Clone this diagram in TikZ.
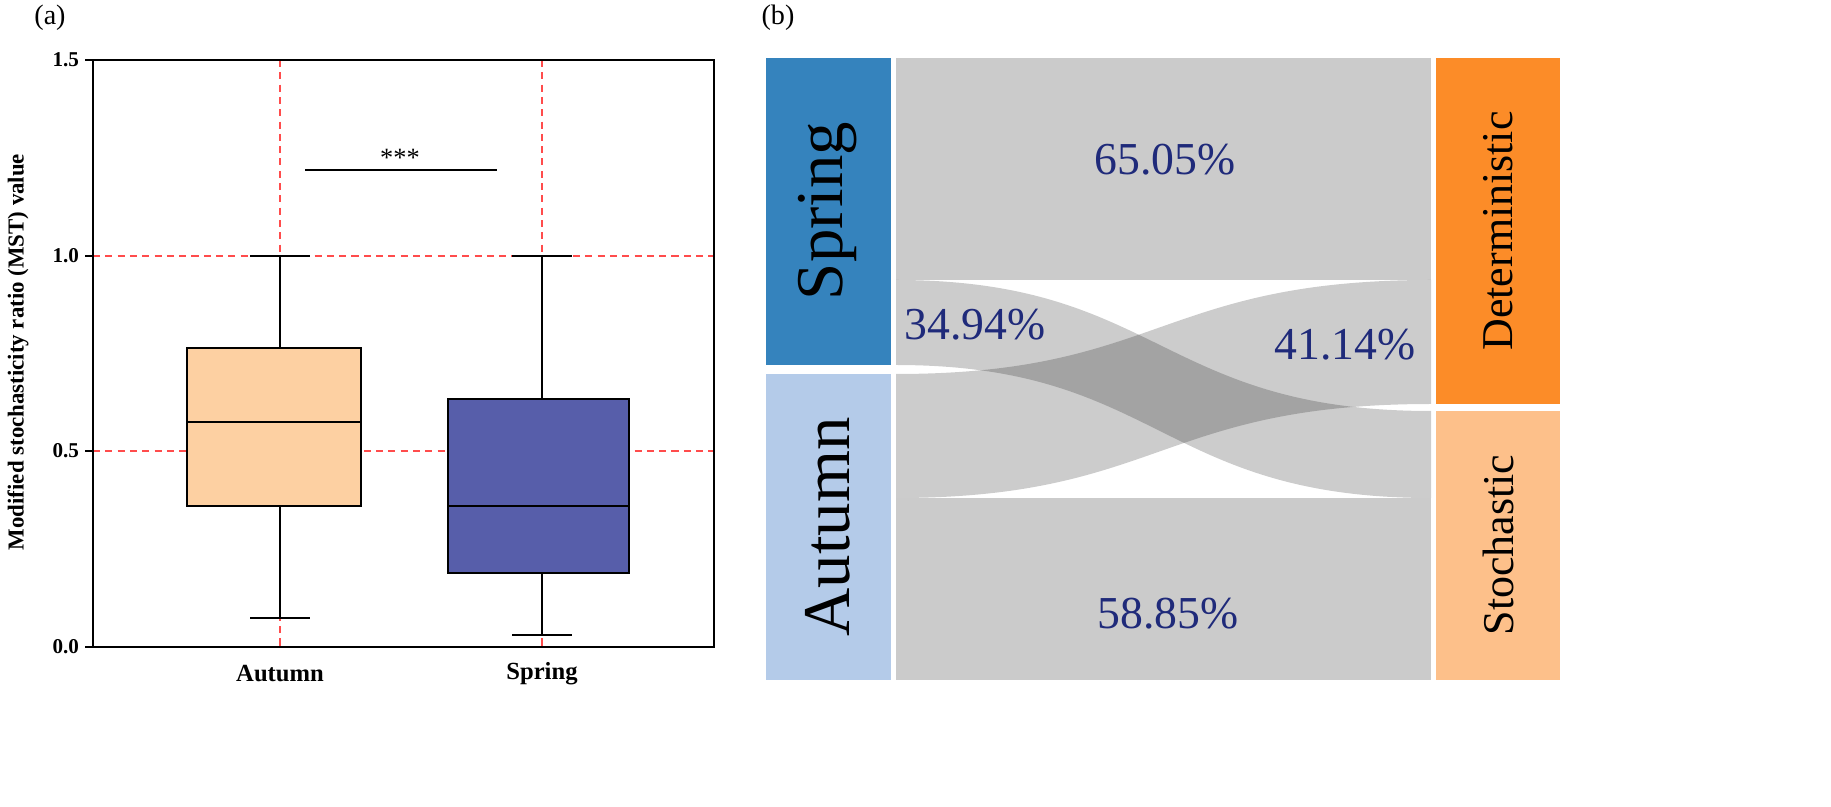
\documentclass[tikz,border=0pt]{standalone}
\usepackage{fontspec}
\setmainfont{Liberation Serif}
\definecolor{springc}{HTML}{3583BD}
\definecolor{autumnc}{HTML}{B4CBE9}
\definecolor{detc}{HTML}{FC8C28}
\definecolor{stoc}{HTML}{FDC08A}
\definecolor{flowc}{HTML}{CBCBCB}
\definecolor{pctc}{HTML}{1F2A7A}
\definecolor{boxa}{HTML}{FDD0A2}
\definecolor{boxs}{HTML}{575EAA}
\begin{document}
\begin{tikzpicture}[x=0.01cm,y=-0.01cm,
  grid/.style={red!70,dashed,line width=0.3pt,dash pattern=on 2pt off 1.5pt},
  whisk/.style={line width=0.7pt},
  tick/.style={font=\fontsize{6}{6}\selectfont\bfseries,left,inner sep=1.5pt},
  pct/.style={text=pctc,font=\fontsize{13}{13}\selectfont},
  band/.style={fill=black,fill opacity=0.2}]
 \useasboundingbox (0,0) rectangle (1831,807);
 % panel (a)
 \node (la) at (50,18) {\fontsize{8}{8}\selectfont (a)};
 \foreach \y in {256,451} \draw[grid] (93,\y) -- (714,\y);
 \foreach \x in {280,542} \draw[grid] (\x,60) -- (\x,647);
 \draw[line width=0.7pt] (93,60) rectangle (714,647);
 \foreach \y/\t in {60/1.5,256/1.0,451/0.5,647/0.0}{
   \draw[line width=0.7pt] (85,\y) -- (93,\y);
   \node[tick] at (85,\y) {\t};}
 \node[rotate=90,font=\fontsize{6.5}{6.5}\selectfont\bfseries] (ytitle) at (18,352) {Modified stochasticity ratio (MST) value};
 % Autumn box
 \draw[whisk] (280,256) -- (280,348) (280,506) -- (280,618)
   (250,256) -- (310,256) (250,618) -- (310,618);
 \draw[whisk,fill=boxa] (187,348) rectangle (361,506);
 \draw[whisk] (187,422) -- (361,422);
 % Spring box
 \draw[whisk] (542,256) -- (542,399) (542,573) -- (542,635)
   (512,256) -- (572,256) (512,635) -- (572,635);
 \draw[whisk,fill=boxs] (448,399) rectangle (629,573);
 \draw[whisk] (448,506) -- (629,506);
 \draw[line width=0.3pt] (305,170) -- (497,170);
 \node[font=\fontsize{7.5}{7.5}\selectfont] (sig) at (400,158) {***};
 \node[font=\fontsize{7}{7}\selectfont\bfseries] (xa) at (280,674) {Autumn};
 \node[font=\fontsize{7}{7}\selectfont\bfseries] (xs) at (542,674) {Spring};
 % panel (b)
 \node (lb) at (778,18) {\fontsize{8}{8}\selectfont (b)};
 \fill[flowc] (896,58) rectangle (1431,280);
 \fill[flowc] (896,498) rectangle (1431,680);
 \fill[band] (896,280) .. controls (1160,280) and (1160,411) .. (1431,411)
   -- (1431,498) .. controls (1160,498) and (1160,365) .. (896,365) -- cycle;
 \fill[band] (896,374) .. controls (1160,374) and (1160,280) .. (1431,280)
   -- (1431,404) .. controls (1160,404) and (1160,498) .. (896,498) -- cycle;
 \fill[springc] (766,58) rectangle (891,365);
 \fill[autumnc] (766,374) rectangle (891,680);
 \fill[detc] (1436,58) rectangle (1560,404);
 \fill[stoc] (1436,411) rectangle (1560,680);
 \node[rotate=90,font=\fontsize{19}{19}\selectfont] (spr) at (828,211) {Spring};
 \node[rotate=90,font=\fontsize{19}{19}\selectfont] (aut) at (828,527) {Autumn};
 \node[rotate=90,font=\fontsize{12.5}{12.5}\selectfont] (det) at (1498,231) {Deterministic};
 \node[rotate=90,font=\fontsize{12.5}{12.5}\selectfont] (sto) at (1498,545) {Stochastic};
 \node[pct] (p1) at (1165,160) {65.05\%};
 \node[pct] (p2) at (975,325) {34.94\%};
 \node[pct] (p3) at (1345,345) {41.14\%};
 \node[pct] (p4) at (1168,614) {58.85\%};
\end{tikzpicture}
\end{document}
